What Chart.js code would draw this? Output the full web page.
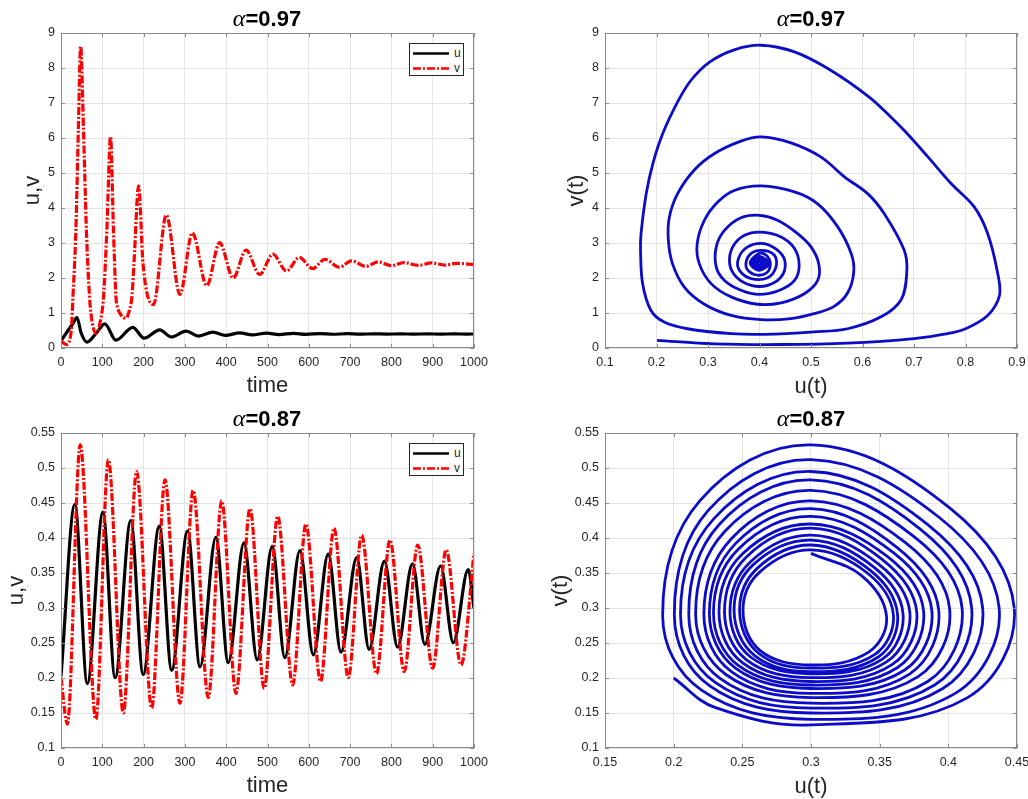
<!DOCTYPE html>
<html>
<head>
<meta charset="utf-8">
<script src="https://cdn.jsdelivr.net/npm/chart.js@4.4.1/dist/chart.umd.min.js"></script>
<style>
html, body { margin: 0; padding: 0; background: #fff; overflow: hidden; }
body { width: 1028px; height: 799px; position: relative; font-family: "Liberation Sans", Arial, sans-serif; }
canvas { position: absolute; }
.ttl { position: absolute; transform: translate(-50%, -50%); font-weight: bold; font-size: 22px; line-height: 1; white-space: nowrap; color: #000; }
.ttl i { font-family: "Liberation Serif", "Times New Roman", serif; font-weight: normal; font-size: 24px; }
.lg { position: absolute; width: 55px; height: 33px; border: 1px solid #262626; background: #fff; box-sizing: border-box; font-size: 12px; color: #262626; }
.lg svg { position: absolute; left: 0; top: 0; }
.lg span { position: absolute; left: 44px; line-height: 1; }
</style>
</head>
<body>
<canvas id="c1" width="514" height="400" style="left:0;top:0"></canvas>
<canvas id="c2" width="530" height="400" style="left:514px;top:0"></canvas>
<canvas id="c3" width="514" height="399" style="left:0;top:400px"></canvas>
<canvas id="c4" width="530" height="399" style="left:514px;top:400px"></canvas>

<div class="ttl" style="left:267px;top:18px"><i>α</i>=0.97</div>
<div class="ttl" style="left:811px;top:18px"><i>α</i>=0.97</div>
<div class="ttl" style="left:267px;top:418px"><i>α</i>=0.87</div>
<div class="ttl" style="left:811px;top:418px"><i>α</i>=0.87</div>

<div class="lg" style="left:409px;top:43px">
  <svg width="55" height="33"><line x1="3" y1="9.5" x2="39" y2="9.5" stroke="#000" stroke-width="2.5"/><line x1="3" y1="24.5" x2="39" y2="24.5" stroke="#f00" stroke-width="2.5" stroke-dasharray="8 2 2 2"/></svg>
  <span style="top:3px">u</span><span style="top:18px">v</span>
</div>
<div class="lg" style="left:409px;top:443px">
  <svg width="55" height="33"><line x1="3" y1="9.5" x2="39" y2="9.5" stroke="#000" stroke-width="2.5"/><line x1="3" y1="24.5" x2="39" y2="24.5" stroke="#f00" stroke-width="2.5" stroke-dasharray="8 2 2 2"/></svg>
  <span style="top:3px">u</span><span style="top:18px">v</span>
</div>

<script>
// tick labels
const ticksTime = [0, 100, 200, 300, 400, 500, 600, 700, 800, 900, 1000];
const ticksV97 = [0, 1, 2, 3, 4, 5, 6, 7, 8, 9];
const ticksU97 = [0.1, 0.2, 0.3, 0.4, 0.5, 0.6, 0.7, 0.8, 0.9];
const ticksV87 = [0.1, 0.15, 0.2, 0.25, 0.3, 0.35, 0.4, 0.45, 0.5, 0.55];
const ticksU87 = [0.15, 0.2, 0.25, 0.3, 0.35, 0.4, 0.45];

// alpha = 0.97, [time, value]
const u97 = [[0,0.2],[17,0.5],[29,0.7],[38.7,0.87],[49,0.42],[63,0.17],[85,0.42],[106,0.69],[133,0.225],[174,0.59],
  [201,0.28],[239,0.52],[267,0.315],[303,0.48],[333,0.34],[368,0.455],[398,0.36],[433,0.435],[463,0.375],[498,0.425],
  [528,0.385],[563,0.418],[593,0.39],[628,0.412],[658,0.393],[693,0.408],[723,0.395],[758,0.405],[788,0.397],[823,0.403],
  [853,0.398],[888,0.402],[918,0.399],[953,0.401],[983,0.399],[1000,0.4]];
const v97 = [[0,0.2],[13,0.1],[25,0.51],[29,1.47],[36,3.37],[42,6.23],[47.6,8.62],[54.5,6.23],[61.5,3.37],[69,1.47],
  [76,0.7],[85,0.42],[94,0.7],[103,1.47],[111,3.37],[120,6.04],[127,3.37],[133,1.47],[136,1.2],[145,0.95],[157,0.85],
  [166,1.1],[172,1.5],[176.7,2.42],[188,4.63],[198.5,2.42],[224,1.24],[255,3.8],[288,1.53],[318,3.29],[353,1.78],[384,3.01],
  [417,2.0],[448,2.8],[481,2.1],[513,2.68],[546,2.2],[577,2.59],[609,2.27],[639,2.53],[674,2.31],[704,2.49],
  [738,2.33],[768,2.46],[800,2.35],[830,2.44],[865,2.36],[897,2.43],[930,2.37],[958,2.42],[1000,2.38]];

// alpha = 0.97 phase plane, [u, v]
const phase97 = [[0.201,0.22],[0.312,0.12],[0.442,0.10],[0.571,0.14],[0.70,0.27],[0.765,0.41],[0.80,0.55],[0.843,0.93],
  [0.866,1.5],[0.862,2.17],[0.843,3.27],[0.817,4.03],[0.772,4.7],[0.727,5.46],[0.684,6.17],[0.655,6.6],[0.613,7.17],
  [0.539,7.93],[0.468,8.46],[0.403,8.65],[0.351,8.52],[0.303,8.17],[0.267,7.65],[0.241,7.03],[0.212,6.12],[0.193,5.27],
  [0.18,4.41],[0.17,3.27],[0.169,2.79],[0.173,1.84],[0.189,1.08],[0.215,0.74],[0.26,0.55],[0.345,0.41],[0.409,0.39],
  [0.506,0.46],[0.571,0.55],[0.636,0.89],[0.675,1.38],[0.686,2.17],[0.681,2.79],[0.642,3.84],[0.61,4.41],[0.565,4.89],
  [0.519,5.46],[0.461,5.86],[0.403,6.03],[0.364,5.91],[0.312,5.55],[0.273,5.08],[0.241,4.41],[0.225,3.74],[0.223,3.08],
  [0.231,2.41],[0.254,1.74],[0.293,1.25],[0.345,0.93],[0.403,0.81],[0.461,0.84],[0.506,0.98],[0.545,1.19],[0.571,1.57],
  [0.583,2.17],[0.578,2.7],[0.552,3.46],[0.513,4.12],[0.468,4.46],[0.403,4.63],[0.351,4.5],[0.319,4.17],[0.293,3.65],
  [0.279,2.98],[0.283,2.41],[0.306,1.84],[0.345,1.46],[0.396,1.25],[0.442,1.29],[0.487,1.55],[0.513,1.93],[0.515,2.41],
  [0.50,2.89],[0.474,3.27],[0.435,3.65],[0.40,3.79],[0.364,3.72],[0.332,3.36],[0.316,2.89],[0.316,2.31],[0.332,1.93],
  [0.364,1.65],[0.40,1.53],[0.439,1.65],[0.468,1.93],[0.477,2.36],[0.468,2.84],[0.442,3.17],[0.403,3.31],[0.371,3.22],
  [0.348,2.89],[0.342,2.41],[0.355,2.03],[0.384,1.79],[0.416,1.79],[0.442,2.03],[0.45,2.41],[0.439,2.74],[0.409,2.98],
  [0.377,2.89],[0.359,2.55],[0.361,2.22],[0.384,1.98],[0.416,2.01],[0.432,2.31],[0.429,2.65],[0.403,2.79],[0.38,2.65],
  [0.374,2.31],[0.39,2.10],[0.413,2.14],[0.421,2.41],[0.413,2.65],
  [0.399,2.70],[0.382,2.43],[0.399,2.22],[0.418,2.41],
  [0.400,2.62],[0.386,2.42],[0.400,2.26],[0.414,2.41],
  [0.400,2.56],[0.389,2.42],[0.400,2.29],[0.411,2.41],
  [0.400,2.52],[0.392,2.42],[0.400,2.32],[0.408,2.41],
  [0.400,2.49],[0.394,2.42],[0.400,2.35],[0.406,2.41],
  [0.400,2.46],[0.396,2.42],[0.400,2.37],[0.404,2.41],
  [0.400,2.44],[0.398,2.41],[0.400,2.39],[0.402,2.41],[0.4,2.41]];

// alpha = 0.87, [time, value]
const u87 = [[0,0.202],[33.5,0.448],[63.7,0.192],[101.5,0.437],[131,0.2005],[169,0.425],[199,0.205],[238,0.417],
  [268,0.211],[306.5,0.41],[336.6,0.216],[375,0.401],[405,0.222],[443,0.393],[475,0.226],[511.5,0.388],[542,0.229],
  [578.5,0.382],[611,0.233],[647,0.377],[678,0.237],[716,0.372],[746,0.241],[783,0.367],[815,0.244],[851,0.363],
  [881,0.248],[919,0.36],[950,0.2505],[986,0.355],[1000,0.30]];
const v87 = [[0,0.2],[15.5,0.134],[46.5,0.533],[84.5,0.141],[114.6,0.512],[151,0.15],[183,0.495],[219.6,0.157],
  [251.8,0.483],[288,0.164],[320,0.468],[356.6,0.172],[389,0.453],[423.7,0.178],[457.6,0.442],[492,0.185],[524.6,0.431],
  [561,0.19],[593,0.42],[628.5,0.195],[661,0.414],[695.6,0.2005],[728,0.404],[764,0.206],[796.6,0.397],[831,0.209],
  [863.6,0.39],[900,0.214],[932.6,0.383],[968.5,0.2186],[1000,0.378]];

// alpha = 0.87 phase plane, [u, v]
const phase87 = [[0.2,0.2],[0.23,0.158],
  [0.30,0.133],[0.414,0.172],[0.448,0.30],[0.401,0.443],[0.30,0.533],[0.219,0.453],[0.192,0.288],[0.220,0.183],
  [0.30,0.141],[0.405,0.178],[0.437,0.30],[0.393,0.430],[0.30,0.512],[0.225,0.439],[0.2005,0.289],[0.226,0.189],
  [0.30,0.150],[0.396,0.185],[0.425,0.30],[0.385,0.419],[0.30,0.495],[0.229,0.427],[0.205,0.29],[0.230,0.194],
  [0.30,0.157],[0.390,0.190],[0.417,0.30],[0.380,0.412],[0.30,0.483],[0.233,0.419],[0.211,0.29],[0.234,0.199],
  [0.30,0.164],[0.385,0.195],[0.41,0.30],[0.375,0.402],[0.30,0.468],[0.237,0.409],[0.216,0.29],[0.238,0.205],
  [0.30,0.172],[0.378,0.202],[0.401,0.298],[0.369,0.393],[0.30,0.453],[0.242,0.399],[0.222,0.291],[0.242,0.209],
  [0.30,0.178],[0.372,0.206],[0.393,0.297],[0.363,0.386],[0.30,0.442],[0.245,0.392],[0.226,0.292],[0.245,0.214],
  [0.30,0.185],[0.368,0.211],[0.388,0.296],[0.360,0.379],[0.30,0.431],[0.247,0.384],[0.229,0.293],[0.247,0.218],
  [0.30,0.190],[0.363,0.215],[0.382,0.295],[0.356,0.373],[0.30,0.420],[0.250,0.377],[0.233,0.294],[0.250,0.222],
  [0.30,0.195],[0.359,0.219],[0.377,0.294],[0.352,0.369],[0.30,0.414],[0.253,0.373],[0.237,0.295],[0.253,0.226],
  [0.30,0.2005],[0.355,0.223],[0.372,0.293],[0.349,0.363],[0.30,0.404],[0.256,0.366],[0.241,0.295],[0.256,0.230],
  [0.30,0.206],[0.352,0.227],[0.367,0.292],[0.346,0.358],[0.30,0.397],[0.258,0.362],[0.244,0.296],[0.259,0.232],
  [0.30,0.209],[0.349,0.230],[0.363,0.291],[0.343,0.354],[0.30,0.390],[0.261,0.357],[0.248,0.296],[0.262,0.235],
  [0.30,0.214],[0.346,0.233],[0.36,0.29],[0.341,0.350],[0.30,0.383],[0.263,0.352],[0.2505,0.297],[0.263,0.239],
  [0.30,0.2186],[0.342,0.237],[0.355,0.288],[0.337,0.346],[0.30,0.378]];

const fam = '"Liberation Sans", Arial, sans-serif';
const gridColor = '#e4e4e4';
const boxColor = '#8a8a8a';
const blue = '#0c0cc8';

const toXY = arr => arr.map(p => ({ x: p[0], y: p[1] }));

// MATLAB style box with inward ticks
const boxPlugin = {
  id: 'box',
  afterDraw(chart) {
    const { ctx, chartArea: a, scales: { x, y } } = chart;
    ctx.save();
    ctx.strokeStyle = boxColor;
    ctx.lineWidth = 1;
    ctx.strokeRect(a.left + 0.5, a.top + 0.5, a.right - a.left - 1, a.bottom - a.top - 1);
    ctx.beginPath();
    x.ticks.forEach(t => {
      const px = Math.round(x.getPixelForValue(t.value)) + 0.5;
      ctx.moveTo(px, a.bottom); ctx.lineTo(px, a.bottom - 4);
      ctx.moveTo(px, a.top); ctx.lineTo(px, a.top + 4);
    });
    y.ticks.forEach(t => {
      const py = Math.round(y.getPixelForValue(t.value)) + 0.5;
      ctx.moveTo(a.left, py); ctx.lineTo(a.left + 4, py);
      ctx.moveTo(a.right, py); ctx.lineTo(a.right - 4, py);
    });
    ctx.stroke();
    ctx.restore();
  }
};

function axis(min, max, list, title, isX, size, titlePad) {
  return {
    type: 'linear', min: min, max: max,
    afterBuildTicks: s => { s.ticks = list.map(v => ({ value: v })); },
    afterFit: s => { if (isX) s.height = size; else s.width = size; },
    grid: { color: gridColor, lineWidth: 1, drawTicks: false },
    border: { display: false },
    ticks: {
      padding: isX ? 7 : 6, color: '#262626', autoSkip: false, maxRotation: 0,
      font: { size: 12.5, family: fam },
      callback: v => String(+v.toFixed(2))
    },
    title: {
      display: true, text: title, color: '#262626',
      font: { size: 22, family: fam, lineHeight: 1 },
      padding: isX ? { top: 0, bottom: titlePad } : { top: titlePad, bottom: 0 }
    }
  };
}

function panel(id, sets, xs, ys, padRight) {
  return new Chart(document.getElementById(id), {
    type: 'scatter',
    data: { datasets: sets },
    options: {
      responsive: false, animation: false, devicePixelRatio: 1,
      layout: { padding: { top: 33, right: padRight, left: 0, bottom: 0 } },
      plugins: { legend: { display: false }, tooltip: { enabled: false } },
      elements: { point: { radius: 0 } },
      scales: { x: xs, y: ys }
    },
    plugins: [boxPlugin]
  });
}

function uLine(d) {
  return { data: toXY(d), showLine: true, borderColor: '#000', borderWidth: 3.2, pointRadius: 0,
    cubicInterpolationMode: 'monotone', order: 2 };
}
function vLine(d) {
  return { data: toXY(d), showLine: true, borderColor: '#ff0000', borderWidth: 3.2, pointRadius: 0,
    borderDash: [8, 2, 2, 2], cubicInterpolationMode: 'monotone', order: 1 };
}
function phaseLine(d, tension) {
  return { data: toXY(d), showLine: true, borderColor: blue, borderWidth: 2.8, pointRadius: 0,
    tension: tension, borderJoinStyle: 'round' };
}

panel('c1', [uLine(u97), vLine(v97)],
  axis(0, 1000, ticksTime, 'time', true, 52, 3.5),
  axis(0, 9, ticksV97, 'u,v', false, 61, 22), 40);

panel('c2', [phaseLine(phase97, 0.35)],
  axis(0.1, 0.9, ticksU97, 'u(t)', true, 52, 2.3),
  axis(0, 9, ticksV97, 'v(t)', false, 91, 52), 27);

panel('c3', [uLine(u87), vLine(v87)],
  axis(0, 1000, ticksTime, 'time', true, 51, 2),
  axis(0.1, 0.55, ticksV87, 'u,v', false, 61, 5.7), 40);

panel('c4', [phaseLine(phase87, 0.38)],
  axis(0.15, 0.45, ticksU87, 'u(t)', true, 51, 1.3),
  axis(0.1, 0.55, ticksV87, 'v(t)', false, 91, 35.7), 27);
</script>
</body>
</html>
